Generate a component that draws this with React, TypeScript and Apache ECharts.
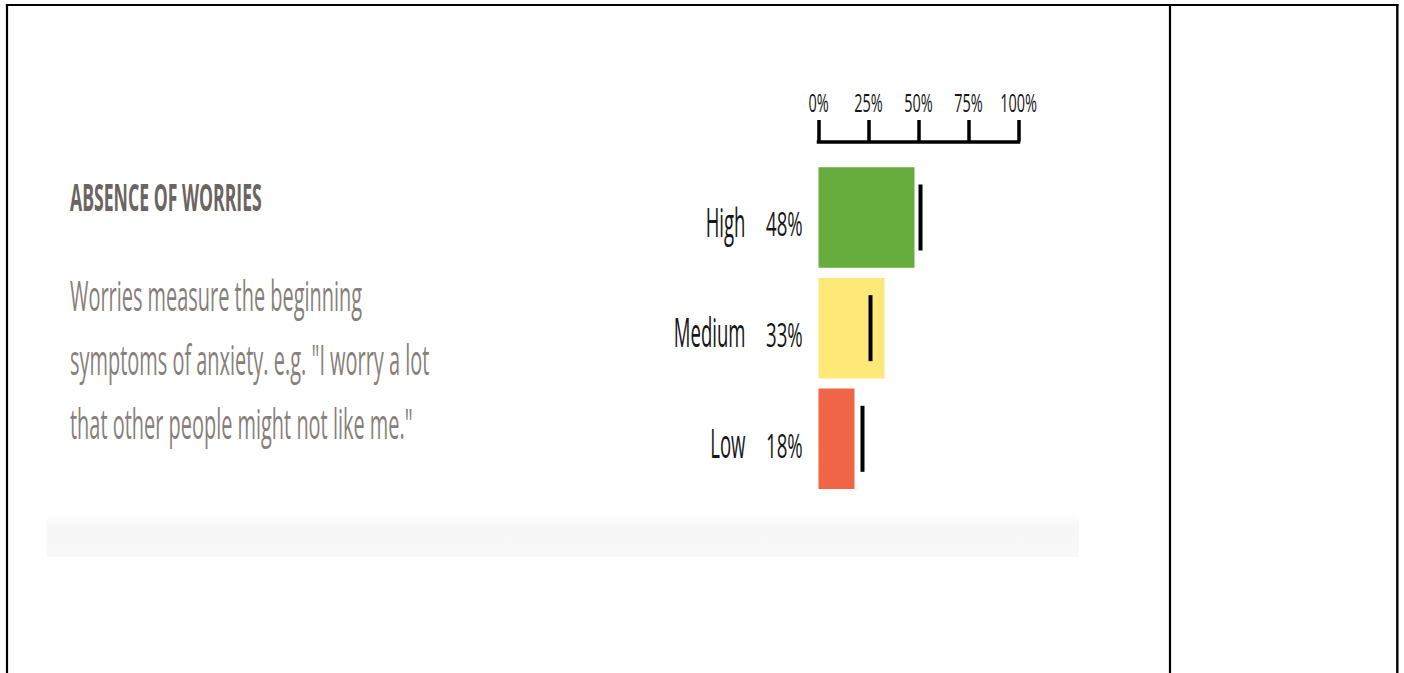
import React, { useEffect, useRef } from 'react';
import * as echarts from 'echarts';

// ---- data ----
const categories = ['High', 'Medium', 'Low'];
const barValues = [48, 33, 18];
const markerValues = [51, 26, 22];
const barColors = ['#66ad3d', '#fee877', '#ef6545'];
const tickValues = [0, 25, 50, 75, 100];
const titleText = 'ABSENCE OF WORRIES';
const descLines = [
  'Worries measure the beginning',
  'symptoms of anxiety. e.g. "I worry a lot',
  'that other people might not like me."',
];

const FONT = 'Open Sans';

function canvasWidth(text: string, weight: string | number, size: number): number {
  const c = document.createElement('canvas').getContext('2d');
  if (!c) return 100;
  c.font = `${weight} ${size}px '${FONT}'`;
  return c.measureText(text).width;
}

function squeezedText(
  text: string,
  x: number,
  y: number,
  size: number,
  weight: string | number,
  scaleX: number,
  align: string,
  fill: string
) {
  return {
    type: 'text',
    x,
    y: y - 0.03 * size,
    scaleX,
    style: {
      text,
      fontSize: size,
      fontWeight: weight,
      fontFamily: FONT,
      fill,
      align,
      verticalAlign: 'middle',
      textAlign: align,
      textVerticalAlign: 'middle',
    },
  };
}

export default function App() {
  const ref = useRef<HTMLDivElement>(null);

  useEffect(() => {
    if (!ref.current) return;
    const chart = echarts.init(ref.current, null, { renderer: 'svg' });

    const axisMin = tickValues[0];
    const axisMax = tickValues[tickValues.length - 1];
    const axisInterval = tickValues[1] - tickValues[0];

    const option: any = {
      animation: false,
      backgroundColor: '#ffffff',
      grid: { left: 818.5, top: 162.15, width: 200, height: 332, containLabel: false },
      xAxis: {
        type: 'value',
        position: 'top',
        min: axisMin,
        max: axisMax,
        interval: axisInterval,
        offset: 20.65,
        axisLine: { show: true, lineStyle: { color: '#000', width: 3.5, cap: 'square' } },
        axisTick: { show: true, inside: false, length: 21.5, lineStyle: { color: '#000', width: 3.5 } },
        axisLabel: { show: false },
        splitLine: { show: false },
      },
      yAxis: {
        type: 'category',
        data: categories,
        inverse: true,
        axisLine: { show: false },
        axisTick: { show: false },
        splitLine: { show: false },
        axisLabel: { show: false },
      },
      series: [
        {
          type: 'bar',
          barWidth: 100.5,
          data: barValues.map((v, i) => ({ value: v, itemStyle: { color: barColors[i] } })),
        },
        {
          type: 'scatter',
          symbol: 'rect',
          symbolSize: [4, 66],
          z: 5,
          itemStyle: { color: '#000', opacity: 1 },
          data: markerValues.map((v, i) => [v, categories[i]]),
        },
      ],
    };
    chart.setOption(option);

    // ---- texts (horizontally condensed like the original) ----
    const labelColor = '#161616';
    const tickSize = 25.8;
    const tickScale = 36.7 / canvasWidth('100%', 400, tickSize);
    const catSize = 41;
    const catScale = 71.7 / canvasWidth('Medium', 400, catSize);
    const pctSize = 32.6;
    const pctScale = 36.7 / canvasWidth('48%', 400, pctSize);

    const labels: any[] = [];
    tickValues.forEach((v) => {
      const x = chart.convertToPixel({ xAxisIndex: 0 }, v) as number;
      labels.push(squeezedText(`${v}%`, x, 102.5, tickSize, 400, tickScale, 'center', labelColor));
    });
    categories.forEach((c, i) => {
      const y = chart.convertToPixel({ yAxisIndex: 0 }, c) as number;
      labels.push(squeezedText(c, 745.5, y + 4.2, catSize, 400, catScale, 'right', labelColor));
      labels.push(squeezedText(`${barValues[i]}%`, 802.7, y + 7.5, pctSize, 400, pctScale, 'right', labelColor));
    });

    const titleSize = 37;
    const titleScale = 191.7 / canvasWidth(titleText, 'bold', titleSize);
    const descSize = 42;
    const descTargets = [291.7, 360, 343.3];
    const descCenters = [296.7, 360.3, 424.5];
    const descWidthSum = descLines.reduce((s, t) => s + canvasWidth(t, 400, descSize), 0);
    const descScale = descTargets.reduce((a, b) => a + b, 0) / descWidthSum;
    const descTexts = descLines.map((t, i) =>
      squeezedText(t, 70, descCenters[i], descSize, 400, descScale, 'left', '#877f7b')
    );

    const borderStyle = { stroke: '#000', lineWidth: 2.2 };
    chart.setOption({
      graphic: [
        { type: 'line', shape: { x1: 5.9, y1: 5, x2: 1398.4, y2: 5 }, style: borderStyle, z: 10 },
        { type: 'line', shape: { x1: 7, y1: 4, x2: 7, y2: 680 }, style: borderStyle, z: 10 },
        { type: 'line', shape: { x1: 1170, y1: 4, x2: 1170, y2: 680 }, style: borderStyle, z: 10 },
        { type: 'line', shape: { x1: 1397.3, y1: 4, x2: 1397.3, y2: 680 }, style: { stroke: '#000', lineWidth: 2.4 }, z: 10 },
        {
          type: 'rect',
          shape: { x: 47, y: 515, width: 1032, height: 42 },
          style: {
            fill: {
              type: 'linear', x: 0, y: 0, x2: 0, y2: 1,
              colorStops: [
                { offset: 0, color: '#fdfdfd' },
                { offset: 0.3, color: '#f7f7f7' },
                { offset: 1, color: '#f8f8f8' },
              ],
            },
          },
          z: 0,
        },
        squeezedText(titleText, 70, 197, titleSize, 'bold', titleScale, 'left', '#6b6460'),
        ...descTexts,
        ...labels,
      ],
    });

    return () => chart.dispose();
  }, []);

  return (
    <div
      ref={ref}
      style={{ position: 'fixed', left: 0, top: 0, width: 1404, height: 673, background: '#fff' }}
    />
  );
}
